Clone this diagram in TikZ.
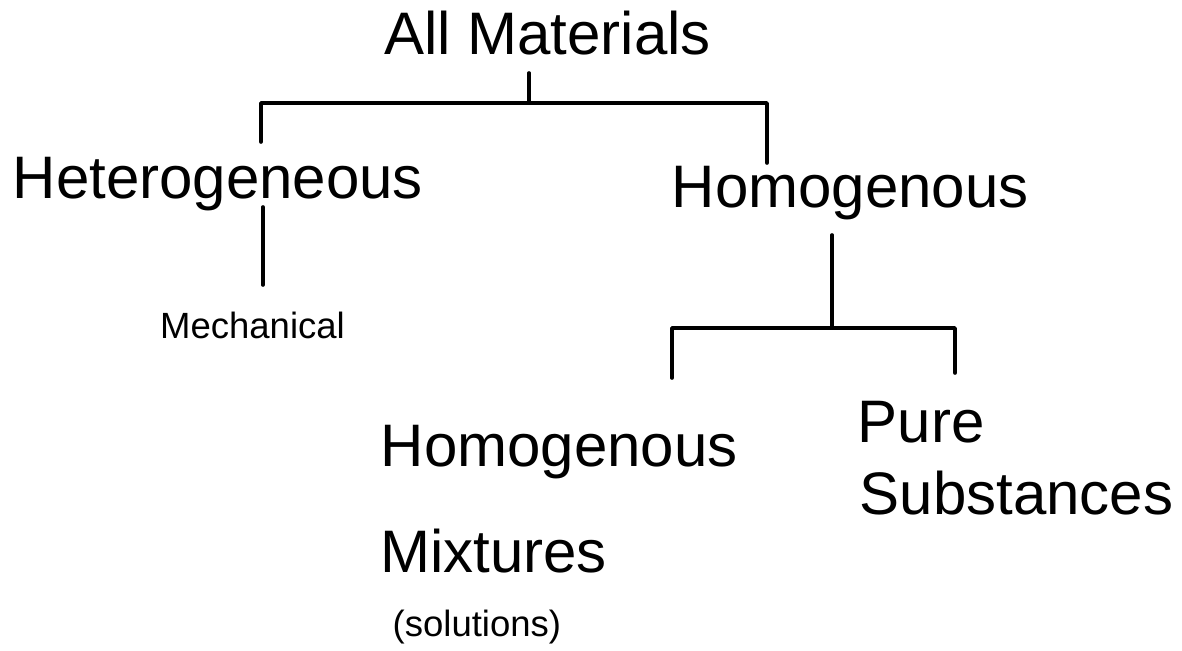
\documentclass[tikz,border=0pt]{standalone}
\usepackage{fontspec}
\setmainfont{Liberation Sans}
\begin{document}
\begin{tikzpicture}[x=1pt,y=1pt,
  big/.style={inner sep=0pt,anchor=base west,font=\fontsize{60}{68}\selectfont},
  small/.style={inner sep=0pt,anchor=base west,font=\fontsize{36.5}{42}\selectfont},
  link/.style={line width=3.6pt,line cap=round,line join=round}]
\useasboundingbox[fill=white] (0,0) rectangle (1182,650);
% text nodes
\node[big] (all) at (384,595) {All Materials};
\node[big] (het) at (12.5,451) {Heterogeneous};
\node[big] (hom) at (671.5,442) {Homogenous};
\node[small] (mech) at (160,311) {Mechanical};
\node[big] (hmix) at (380.5,183) {Homogenous};
\node[big] (mix) at (380,77) {Mixtures};
\node[small] (sol) at (392.5,14) {(solutions)};
\node[big] (pure) at (857.5,207) {Pure};
\node[big] (subst) at (859.5,135) {Substances};
% connector points
\coordinate (allB) at (529,577);
\coordinate (j1) at (529,547);
\coordinate (j1L) at (261,547);
\coordinate (j1R) at (767,547);
\coordinate (hetT) at (261,508);
\coordinate (homT) at (767,487);
\coordinate (hetB) at (263,443);
\coordinate (mechT) at (263,365);
\coordinate (homB) at (832,415);
\coordinate (j2) at (832,322);
\coordinate (j2L) at (672,322);
\coordinate (j2R) at (955,322);
\coordinate (hmixT) at (672,272);
\coordinate (pureT) at (955,277);
% connectors
\draw[link] (allB) -- (j1);
\draw[link] (hetT) -- (j1L) -- (j1R) -- (homT);
\draw[link] (hetB) -- (mechT);
\draw[link] (homB) -- (j2);
\draw[link] (hmixT) -- (j2L) -- (j2R) -- (pureT);
\end{tikzpicture}
\end{document}
